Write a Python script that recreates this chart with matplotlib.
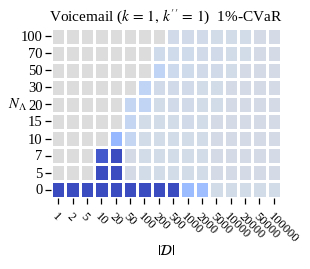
import numpy as np
from matplotlib import pyplot as plt

plt.rcParams['font.family'] = ['Liberation Serif', 'DejaVu Serif']
plt.rcParams['mathtext.fontset'] = 'stix'

# dataset sizes |D| (x) and N_Lambda (y, bottom to top)
d_sizes = ['1', '2', '5', '10', '20', '50', '100', '200', '500', '1000',
           '2000', '5000', '10000', '20000', '50000', '100000']
n_lambda = ['0', '5', '7', '10', '15', '20', '30', '50', '70', '100']

# relative 1%-CVaR change per cell, one list per N_Lambda row
row_0 = [-1, -1, -1, -1, -1, -1, -1, -1, -1, -0.42, -0.40, -0.08, -0.08, -0.08, -0.08, -0.08]
row_5 = [0, 0, 0, -1, -1, -0.07, -0.08, -0.08, -0.08, -0.08, -0.08, -0.07, -0.07, -0.07, -0.07, -0.07]
row_7 = [0, 0, 0, -0.93, -1, -0.07, -0.08, -0.08, -0.08, -0.08, -0.08, -0.07, -0.07, -0.07, -0.07, -0.07]
row_10 = [0, 0, 0, 0, -0.44, -0.17, -0.08, -0.08, -0.08, -0.08, -0.08, -0.07, -0.07, -0.07, -0.07, -0.07]
row_15 = [0, 0, 0, 0, 0, -0.17, -0.08, -0.08, -0.08, -0.09, -0.08, -0.07, -0.07, -0.07, -0.07, -0.07]
row_20 = [0, 0, 0, 0, 0, -0.17, -0.19, -0.08, -0.09, -0.09, -0.08, -0.08, -0.07, -0.07, -0.07, -0.07]
row_30 = [0, 0, 0, 0, 0, 0, -0.20, -0.09, -0.09, -0.09, -0.08, -0.08, -0.07, -0.07, -0.07, -0.07]
row_50 = [0, 0, 0, 0, 0, 0, 0, -0.20, -0.11, -0.10, -0.09, -0.09, -0.08, -0.07, -0.07, -0.07]
row_70 = [0, 0, 0, 0, 0, 0, 0, -0.10, -0.10, -0.10, -0.09, -0.09, -0.08, -0.08, -0.07, -0.07]
row_100 = [0, 0, 0, 0, 0, 0, 0, 0, -0.09, -0.09, -0.09, -0.08, -0.08, -0.08, -0.07, -0.07]

values = np.array([row_0, row_5, row_7, row_10, row_15, row_20,
                   row_30, row_50, row_70, row_100])

fig = plt.figure(figsize=(3.1, 2.69), dpi=100)
ax = fig.add_axes([51 / 310, 71 / 269, 230 / 310, 170 / 269])

ax.pcolormesh(values, cmap='coolwarm', vmin=-1, vmax=1,
              edgecolors='white', linewidth=1.8)

for s in ax.spines.values():
    s.set_visible(False)

ax.set_xticks(np.arange(len(d_sizes)) + 0.5)
ax.set_xticklabels(d_sizes, rotation=-45, ha='left', rotation_mode='anchor',
                   fontsize=9)
ax.set_yticks(np.arange(len(n_lambda)) + 0.5)
ax.set_yticklabels(n_lambda, fontsize=10.5)
ax.tick_params(axis='both', length=4, width=0.9, pad=2)
ax.tick_params(axis='x', pad=5)

ax.set_title("Voicemail ($k\\,=\\,1,\\,k''\\,=\\,1$)  1%-CVaR", fontsize=11, pad=5)
ax.set_xlabel(r'$|\mathcal{D}|$', fontsize=10.5)
ax.xaxis.set_label_coords(0.5, -0.27)
ax.set_ylabel(r'$N_\Lambda$', fontsize=10.5, rotation=0, labelpad=2)

fig.savefig('out.png', dpi=100)
